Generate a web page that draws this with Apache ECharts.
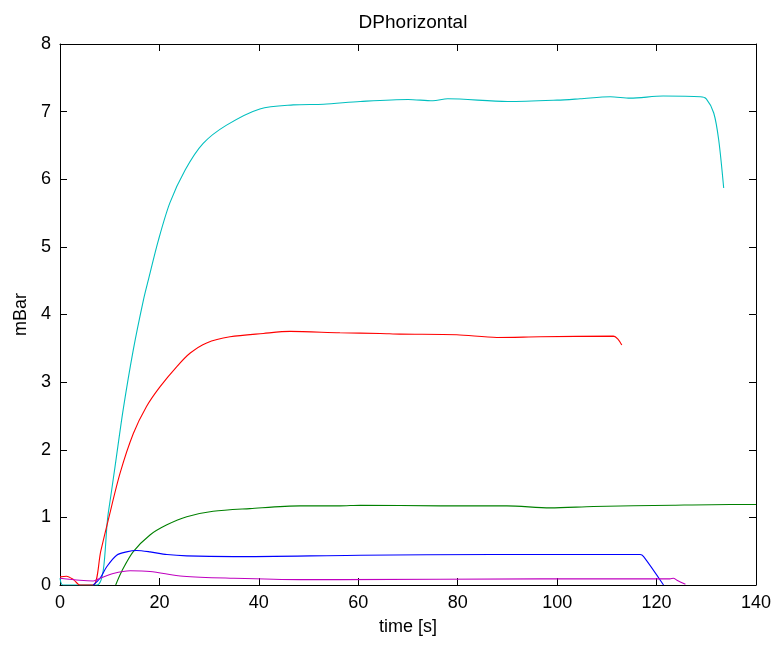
<!DOCTYPE html>
<html><head><meta charset="utf-8">
<script src="https://cdn.jsdelivr.net/npm/echarts@6/dist/echarts.min.js"></script>
<style>html,body{margin:0;padding:0;background:#fff}#c{width:778px;height:646px}</style>
</head><body><div id="c"></div>
<script>
const xTicks = [0, 20, 40, 60, 80, 100, 120, 140];
const yTicks = [0, 1, 2, 3, 4, 5, 6, 7, 8];

const cyanT = [0, 0.6, 7.4, 9.7, 11.07, 12.7, 14.75, 16.8, 17.8, 19.8, 22.1, 25.2, 28.8, 33.5, 40.2, 46.9, 53, 60.4, 70, 75, 78, 90, 100, 104.6, 110.7, 114.7, 121.3, 128.8, 130, 131.5, 132.5, 133.5];
const cyanV = [0.1, 0, 0, 1.06, 1.75, 2.59, 3.48, 4.22, 4.52, 5.1, 5.65, 6.14, 6.53, 6.80, 7.04, 7.10, 7.11, 7.15, 7.18, 7.16, 7.19, 7.15, 7.17, 7.19, 7.22, 7.20, 7.23, 7.22, 7.19, 6.98, 6.58, 5.87];

const redT = [0, 1.3, 2.7, 4, 6.7, 8.2, 9.7, 12.07, 14.75, 17.4, 20.1, 23.5, 26.2, 29.5, 34.2, 40.9, 46.3, 56.3, 64.4, 68.4, 79.8, 87.9, 96.6, 111.3, 112.3, 113.0];
const redV = [0.12, 0.13, 0.08, 0, 0, 0.5, 0.96, 1.65, 2.24, 2.64, 2.93, 3.23, 3.43, 3.58, 3.67, 3.72, 3.75, 3.73, 3.72, 3.71, 3.70, 3.66, 3.67, 3.68, 3.63, 3.55];

const greenT = [11.2, 12.4, 14.7, 18.1, 21.5, 25.5, 30.8, 38.2, 48.3, 56.3, 60.4, 76.5, 89.9, 98.6, 107.3, 123.4, 134.8, 140];
const greenV = [0, 0.20, 0.49, 0.74, 0.89, 1.01, 1.09, 1.13, 1.17, 1.17, 1.18, 1.17, 1.17, 1.14, 1.16, 1.18, 1.19, 1.19];

const blueT = [6.7, 8.05, 9.4, 11.4, 13.4, 15.4, 18.1, 21.5, 25.5, 34.9, 60.4, 87.2, 116.7, 117.4, 121.4];
const blueV = [0, 0.10, 0.27, 0.44, 0.49, 0.51, 0.49, 0.45, 0.43, 0.42, 0.44, 0.45, 0.45, 0.42, 0];

const magentaT = [0, 4, 6.7, 8.05, 10.7, 14.1, 18.1, 24.8, 34.9, 48.3, 56.3, 96.6, 122.7, 123.4, 124.1, 125.8];
const magentaV = [0.10, 0.07, 0.06, 0.10, 0.17, 0.21, 0.20, 0.13, 0.10, 0.08, 0.08, 0.09, 0.09, 0.10, 0.07, 0.01];

const seriesDefs = [
  {name: 'cyan', t: cyanT, v: cyanV, color: '#00BFBF'},
  {name: 'red', t: redT, v: redV, color: '#FF0000'},
  {name: 'green', t: greenT, v: greenV, color: '#008000'},
  {name: 'blue', t: blueT, v: blueV, color: '#0000FF'},
  {name: 'magenta', t: magentaT, v: magentaV, color: '#BF00BF'}
];

const font = 'Liberation Sans, Arial, Helvetica, sans-serif';
const chart = echarts.init(document.getElementById('c'), null, {renderer: 'canvas'});

const axisLine = {show: true, onZero: false, lineStyle: {color: '#000', width: 1}};
const tick = {show: true, inside: true, length: 7, lineStyle: {color: '#000'}};
const lbl = {color: '#000', fontSize: 18, fontFamily: font};

chart.setOption({
  animation: false,
  backgroundColor: '#fff',
  title: {text: 'DPhorizontal', left: 408, top: 8, textAlign: 'center',
    textStyle: {fontSize: 19, fontWeight: 'normal', color: '#000', fontFamily: font}},
  grid: {left: 60, top: 44, right: 22, bottom: 61, containLabel: false},
  xAxis: [
    {type: 'value', min: 0, max: 140, interval: 20, position: 'bottom',
     name: 'time [s]', nameLocation: 'middle', nameGap: 33,
     nameTextStyle: {color: '#000', fontSize: 18, fontFamily: font},
     axisLine: axisLine, axisTick: tick, axisLabel: Object.assign({margin: 9}, lbl),
     splitLine: {show: false}},
    {type: 'value', min: 0, max: 140, interval: 20, position: 'top',
     axisLine: axisLine, axisTick: tick, axisLabel: {show: false}, splitLine: {show: false}}
  ],
  yAxis: [
    {type: 'value', min: 0, max: 8, interval: 1, position: 'left',
     name: 'mBar', nameLocation: 'middle', nameGap: 25,
     nameTextStyle: {color: '#000', fontSize: 18, fontFamily: font},
     axisLine: axisLine, axisTick: tick, axisLabel: Object.assign({margin: 9}, lbl),
     splitLine: {show: false}},
    {type: 'value', min: 0, max: 8, interval: 1, position: 'right',
     axisLine: axisLine, axisTick: tick, axisLabel: {show: false}, splitLine: {show: false}}
  ],
  series: seriesDefs.map(s => ({
    name: s.name, type: 'line', xAxisIndex: 0, yAxisIndex: 0,
    data: s.t.map((t, i) => [t, s.v[i]]),
    showSymbol: false, symbol: 'none', smooth: 0.3,
    lineStyle: {color: s.color, width: 1.1}, itemStyle: {color: s.color},
    clip: true
  }))
});
</script></body></html>
